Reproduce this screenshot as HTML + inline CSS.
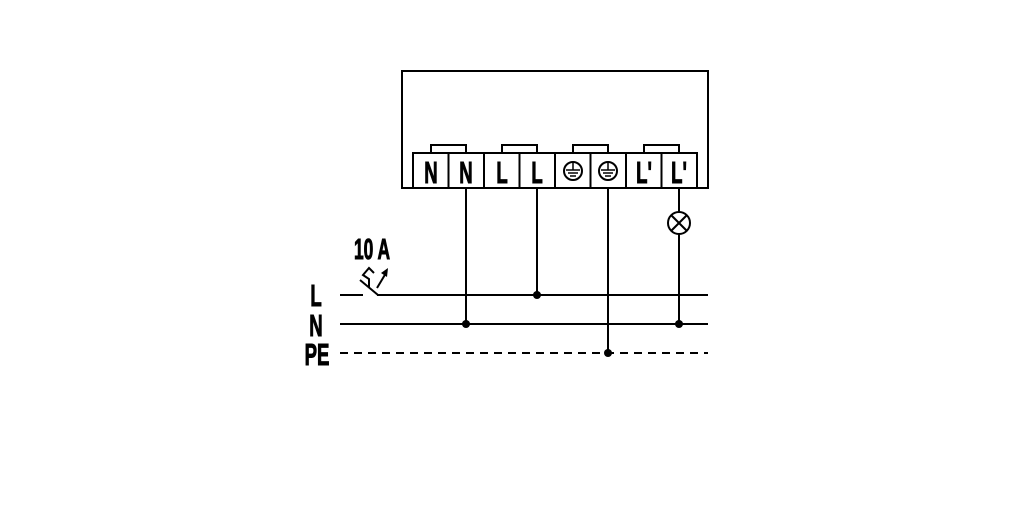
<!DOCTYPE html>
<html><head><style>
html,body{margin:0;padding:0;background:#fff;width:1016px;height:531px;overflow:hidden}
text{font-family:"Liberation Sans Narrow","Liberation Sans",sans-serif;font-weight:bold}
</style></head><body>
<svg width="1016" height="531" viewBox="0 0 1016 531" xmlns="http://www.w3.org/2000/svg">
<g fill="none" stroke="#000" stroke-width="2">
<rect x="402" y="71" width="306" height="117"/>
<rect x="413" y="153" width="284" height="35"/>
<line x1="448.5" y1="153" x2="448.5" y2="188"/>
<line x1="484" y1="153" x2="484" y2="188"/>
<line x1="519.5" y1="153" x2="519.5" y2="188"/>
<line x1="555" y1="153" x2="555" y2="188"/>
<line x1="590.5" y1="153" x2="590.5" y2="188"/>
<line x1="626" y1="153" x2="626" y2="188"/>
<line x1="661.5" y1="153" x2="661.5" y2="188"/>
<polyline points="431,153 431,145 466,145 466,153"/>
<polyline points="502,153 502,145 537,145 537,153"/>
<polyline points="573,153 573,145 608,145 608,153"/>
<polyline points="644,153 644,145 679,145 679,153"/>
<line x1="466" y1="188" x2="466" y2="324"/>
<line x1="537" y1="188" x2="537" y2="295"/>
<line x1="608" y1="188" x2="608" y2="353"/>
<line x1="679" y1="188" x2="679" y2="212"/>
<line x1="679" y1="234" x2="679" y2="324"/>
<circle cx="679" cy="223" r="11"/>
<line x1="671" y1="215" x2="687" y2="231"/>
<line x1="687" y1="215" x2="671" y2="231"/>
<circle cx="573" cy="171" r="9"/>
<circle cx="608" cy="171" r="9"/>
<line x1="340" y1="295" x2="363" y2="295"/>
<line x1="377" y1="295" x2="708" y2="295"/>
<line x1="378" y1="295" x2="360" y2="280"/>
<polyline points="369,287 369,279 363,275 369,268 374,273"/>
<line x1="377" y1="288" x2="386" y2="273"/>
<line x1="340" y1="324" x2="708" y2="324"/>
<line x1="340" y1="353" x2="708" y2="353" stroke-dasharray="8,6"/>
</g>
<g stroke="#000" stroke-width="1.5">
<line x1="573" y1="163" x2="573" y2="170"/><line x1="566" y1="170" x2="580" y2="170"/><line x1="568" y1="173" x2="578" y2="173"/><line x1="570" y1="176" x2="576" y2="176"/>
<line x1="608" y1="163" x2="608" y2="170"/><line x1="601" y1="170" x2="615" y2="170"/><line x1="603" y1="173" x2="613" y2="173"/><line x1="605" y1="176" x2="611" y2="176"/>
</g>
<polygon points="388,268 381,273 387,277" fill="#000"/>
<g fill="#000">
<circle cx="537" cy="295" r="4"/><circle cx="466" cy="324" r="4"/><circle cx="679" cy="324" r="4"/><circle cx="608" cy="353" r="4"/>
</g>
<g font-size="31" text-anchor="middle" stroke="#000" stroke-width="1">
<text transform="translate(431,183) scale(0.6,1)">N</text>
<text transform="translate(466,183) scale(0.6,1)">N</text>
<text transform="translate(502,183) scale(0.6,1)">L</text>
<text transform="translate(537,183) scale(0.6,1)">L</text>
<text transform="translate(644,183) scale(0.6,1)">L'</text>
<text transform="translate(679,183) scale(0.6,1)">L'</text>
<text transform="translate(372,259) scale(0.6,1)" font-size="29">10 A</text>
<text transform="translate(316,306) scale(0.6,1)">L</text>
<text transform="translate(316,336) scale(0.6,1)">N</text>
<text transform="translate(317,365) scale(0.6,1)">PE</text>
</g>
</svg>
</body></html>
